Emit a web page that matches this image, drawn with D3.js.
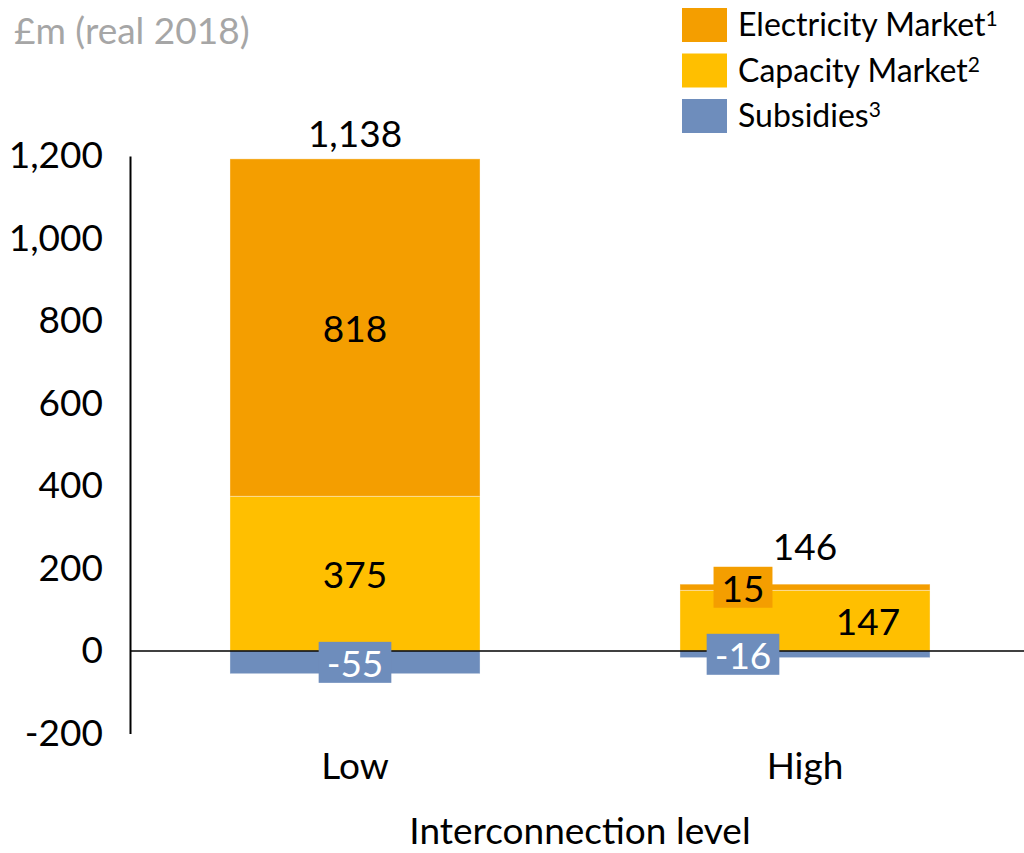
<!DOCTYPE html>
<html>
<head>
<meta charset="utf-8">
<script src="https://cdn.jsdelivr.net/npm/d3@7"></script>
<style>
  html, body { margin: 0; padding: 0; background: #fff; }
  svg { display: block; font-family: Lato, "Open Sans", sans-serif; }
</style>
</head>
<body>
<svg id="chart" width="1024" height="853"></svg>
<script>
const categories = ["Low", "High"];
const seriesNames = ["Electricity Market", "Capacity Market", "Subsidies"];
const seriesSup = ["1", "2", "3"];
const electricity = [818, 15];
const capacity = [375, 147];
const subsidies = [-55, -16];
const totals = [1138, 146];
const yTicks = [-200, 0, 200, 400, 600, 800, 1000, 1200];

const colors = { electricity: "#f49e00", capacity: "#ffbf00", subsidies: "#6e8dbc" };
const FS = 37;

const svg = d3.select("#chart");
const fmt = v => d3.format(",")(v).replace("\u2212", "-");

const x = d3.scaleBand().domain(categories).range([130, 1030])
  .paddingInner(0.4444).paddingOuter(0.2222);
const y = d3.scaleLinear().domain([-200, 1200]).range([733.5, 156]);

const rows = categories.map((c, i) => ({
  cat: c,
  segs: [
    { key: "capacity", y0: 0, y1: capacity[i] },
    { key: "electricity", y0: capacity[i], y1: capacity[i] + electricity[i] },
    { key: "subsidies", y0: subsidies[i], y1: 0 }
  ]
}));

const g = svg.append("g");
rows.forEach(r => {
  g.selectAll(null).data(r.segs).enter().append("rect")
    .attr("x", x(r.cat))
    .attr("width", x.bandwidth())
    .attr("y", d => y(d.y1))
    .attr("height", d => y(d.y0) - y(d.y1))
    .attr("fill", d => colors[d.key])
    .attr("stroke", "#ffffff")
    .attr("stroke-opacity", 0.35)
    .attr("stroke-width", 1);
});

// zero line
svg.append("line")
  .attr("x1", 130).attr("x2", 1024)
  .attr("y1", y(0)).attr("y2", y(0))
  .attr("stroke", "#000").attr("stroke-width", 1.6);

// y axis
const yAxis = d3.axisLeft(y).tickValues(yTicks).tickFormat(fmt).tickSize(0).tickPadding(27);
const ya = svg.append("g").attr("transform", "translate(130,0)").call(yAxis);
ya.select(".domain").attr("stroke", "#000").attr("stroke-width", 2);
ya.selectAll("text").attr("font-size", FS).attr("fill", "#000")
  .attr("font-family", "Lato, 'Open Sans', sans-serif");

// x axis labels
const xAxis = d3.axisBottom(x).tickSize(0).tickPadding(0);
const xa = svg.append("g").attr("transform", "translate(0,0)").call(xAxis);
xa.select(".domain").remove();
xa.selectAll("text").attr("y", 779).attr("dy", null)
  .attr("font-size", FS).attr("fill", "#000")
  .attr("font-family", "Lato, 'Open Sans', sans-serif");

svg.append("text").attr("x", 580).attr("y", 844)
  .attr("text-anchor", "middle").attr("font-size", FS).attr("fill", "#000")
  .text("Interconnection level");

// subtitle
svg.append("text").attr("x", 14).attr("y", 44)
  .attr("font-size", FS).attr("fill", "#a6a6a6")
  .text("£m (real 2018)");

// value labels
function label(cx, cy, txt, bg, color) {
  const t = svg.append("text").attr("x", cx).attr("y", cy)
    .attr("text-anchor", "middle").attr("dominant-baseline", "central")
    .attr("font-size", FS).attr("fill", color).text(txt);
  if (bg) {
    const b = t.node().getBBox();
    svg.insert("rect", () => t.node())
      .attr("x", b.x - 8).attr("y", cy - 20.5)
      .attr("width", b.width + 16).attr("height", 41)
      .attr("fill", bg);
  }
}

// Low
const lc = x("Low") + x.bandwidth() / 2;
label(lc, y(capacity[0] + electricity[0] / 2), fmt(electricity[0]), null, "#000");
label(lc, y(capacity[0] / 2), fmt(capacity[0]), null, "#000");
label(lc, y(subsidies[0] / 2), fmt(subsidies[0]), colors.subsidies, "#fff");
label(lc, y(totals[0]) - 49, fmt(totals[0]), null, "#000");

// High
const hc = x("High") + x.bandwidth() / 2;
label(hc - 62, y(capacity[1] + electricity[1] / 2), fmt(electricity[1]), colors.electricity, "#000");
label(hc + 63, y(capacity[1] / 2), fmt(capacity[1]), null, "#000");
label(hc - 62, y(subsidies[1] / 2), fmt(subsidies[1]), colors.subsidies, "#fff");
label(hc, y(totals[1]) - 45, fmt(totals[1]), null, "#000");

// legend
const legKeys = ["electricity", "capacity", "subsidies"];
const leg = svg.append("g");
legKeys.forEach((k, i) => {
  const ly = 8 + i * 45.5;
  leg.append("rect").attr("x", 682).attr("y", ly).attr("width", 45).attr("height", 34)
    .attr("fill", colors[k]);
  const t = leg.append("text").attr("x", 738).attr("y", ly + 28)
    .attr("font-size", 32).attr("fill", "#000");
  t.append("tspan").text(seriesNames[i]);
  t.append("tspan").attr("font-size", 21).attr("dy", -10).text(seriesSup[i]);
});
</script>
</body>
</html>
